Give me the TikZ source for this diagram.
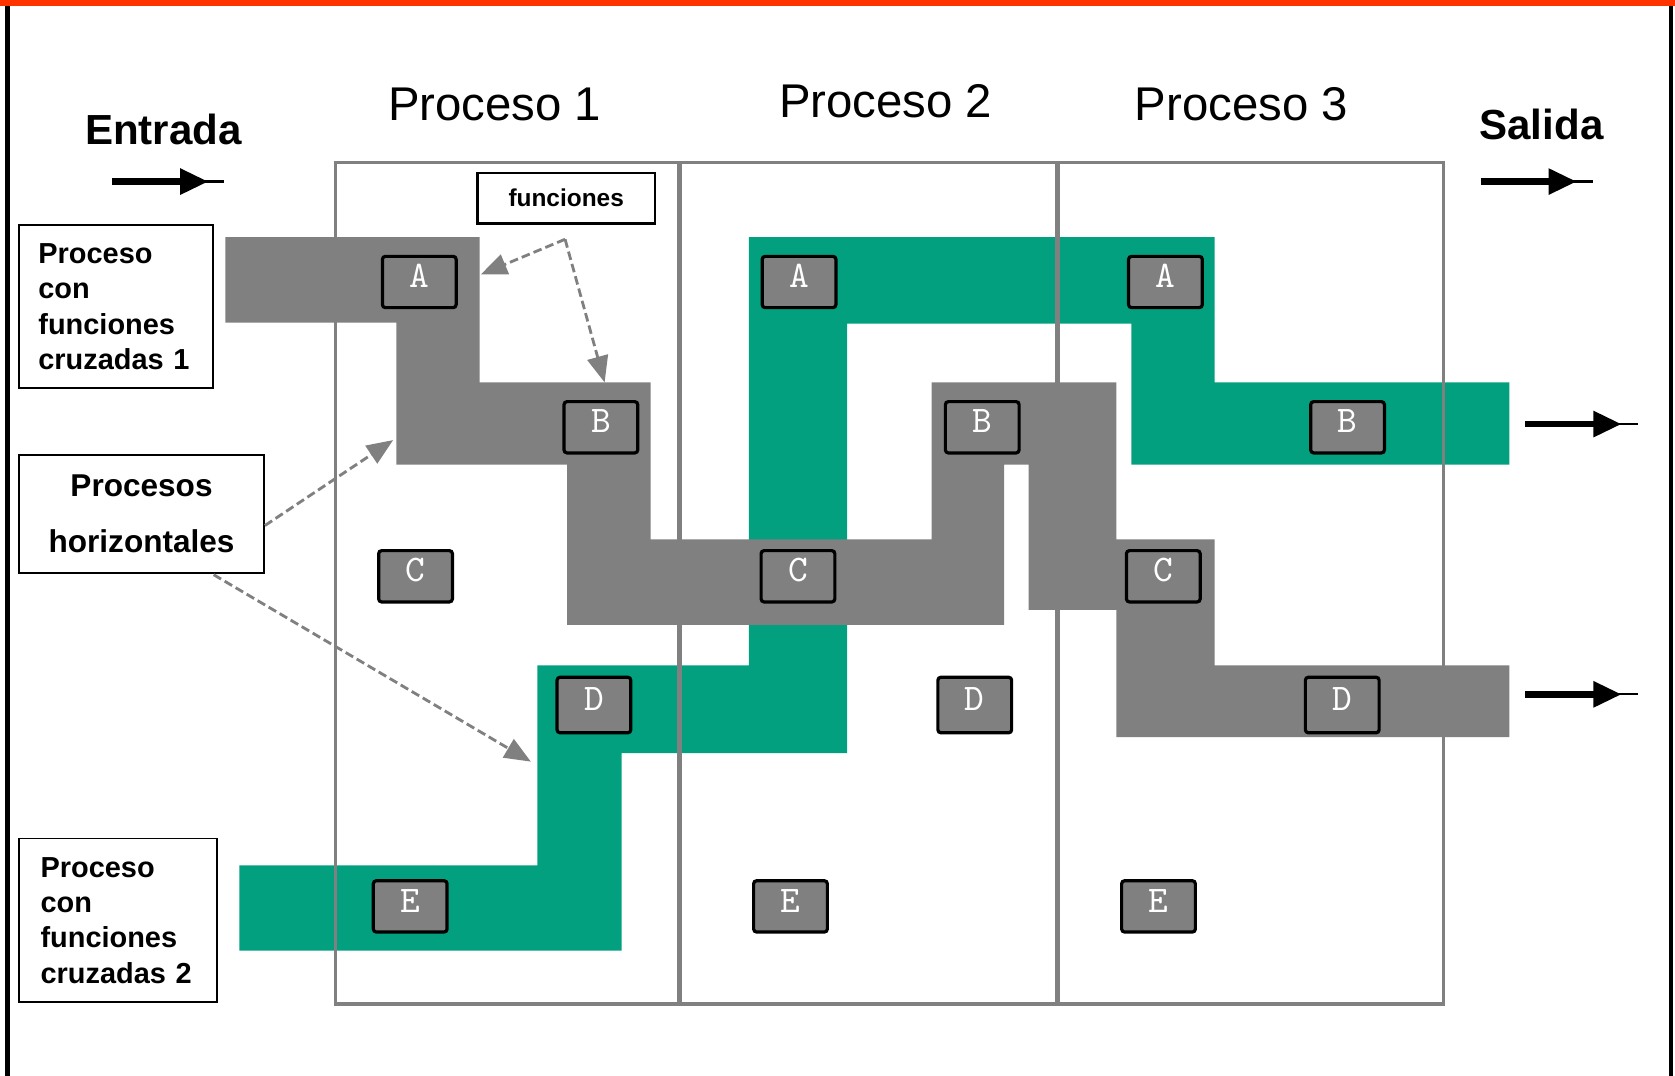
\documentclass[tikz,border=0pt]{standalone}
\usepackage{fontspec}
\setmainfont{Liberation Sans}
\usetikzlibrary{arrows.meta}
\definecolor{bandgray}{RGB}{128,128,128}
\definecolor{bandgreen}{RGB}{3,160,128}
\definecolor{topred}{RGB}{255,51,0}

\begin{document}
\begin{tikzpicture}[x=0.01cm, y=-0.01cm,
  letterbox/.style={draw=black, line width=0.85pt, fill=bandgray, rounded corners=0.8pt, minimum width=0.69cm, minimum height=0.48cm, inner sep=0pt, text=white, font=\fontsize{10}{10}\selectfont\ttfamily, text height=6.2pt, text depth=3.2pt},
  labelbox/.style={draw=black, line width=0.5pt, inner xsep=0.2cm, inner ysep=0pt, font=\fontsize{7.7}{9.4}\selectfont\bfseries, align=left},
  title/.style={font=\fontsize{12.6}{14}\selectfont, anchor=base},
  endtitle/.style={font=\fontsize{11.2}{13}\selectfont\bfseries, anchor=base},
  hint/.style={draw=bandgray, line width=0.75pt, dash pattern=on 2.3pt off 1.1pt, -{Triangle[length=7pt, width=5.6pt]}},
  flow/.style={line width=1.7pt, -{Triangle[length=7.5pt, width=6.6pt]}},
  flowtail/.style={line width=0.6pt},
  lane/.style={draw=bandgray, line width=0.9pt}]

  \useasboundingbox (0,0) rectangle (1568,1007);
  \fill[topred] (0,0) rectangle (1568,5.5);
  \fill[black] (5,5.5) rectangle (9,1007);
  \fill[black] (1562,5.5) rectangle (1566,1007);

  \node[title] (p1) at (463,113) {Proceso 1};
  \node[title] (p2) at (829,110) {Proceso 2};
  \node[title] (p3) at (1162,113) {Proceso 3};
  \node[endtitle] (ent) at (153,135) {Entrada};
  \node[endtitle] (sal) at (1443,131) {Salida};

  \fill[bandgreen] (224,890) -- (224,810) -- (503,810) -- (503,623) -- (701,623) -- (701,222) -- (1137,222) -- (1137,358) -- (1413,358) -- (1413,435) -- (1059,435) -- (1059,303) -- (793,303) -- (793,705) -- (582,705) -- (582,890) -- cycle;
  \fill[bandgray] (211,222) -- (449,222) -- (449,358) -- (609,358) -- (609,505) -- (872,505) -- (872,358) -- (1045,358) -- (1045,505) -- (1137,505) -- (1137,623) -- (1413,623) -- (1413,690) -- (1045,690) -- (1045,571) -- (963,571) -- (963,435) -- (940,435) -- (940,585) -- (531,585) -- (531,435) -- (371,435) -- (371,302) -- (211,302) -- cycle;

  \draw[lane] (314,152) rectangle (1351,940);
  \draw[lane, line width=1.4pt] (636,152) -- (636,940);
  \draw[lane, line width=1.4pt] (990,152) -- (990,940);

  \node[labelbox, text width=1.45cm, inner xsep=0.18cm, minimum height=1.52cm] (cruz1) at (108.5,287) {Proceso\\con\\funciones\\cruzadas 1};
  \node[labelbox, align=center, inner xsep=0pt, font=\fontsize{8.4}{15}\selectfont\bfseries, minimum width=2.29cm, minimum height=1.1cm] (horiz) at (132.5,481) {Procesos\\horizontales};
  \node[labelbox, text width=1.45cm, minimum height=1.53cm] (cruz2) at (110.5,861.5) {Proceso\\con\\funciones\\cruzadas 2};
  \node[labelbox, align=center, inner xsep=0pt, line width=0.7pt, font=\fontsize{6.5}{8}\selectfont\bfseries, minimum width=1.66cm, minimum height=0.47cm] (func) at (530,185.5) {funciones};

  \node[letterbox] (a1) at (392.5,264) {A};
  \node[letterbox] (b1) at (562.5,400) {B};
  \node[letterbox] (c1) at (389,539.5) {C};
  \node[letterbox, minimum height=0.52cm] (d1) at (556,660) {D};
  \node[letterbox] (e1) at (384,848.5) {E};

  \node[letterbox] (a2) at (748,264) {A};
  \node[letterbox] (b2) at (919.5,400) {B};
  \node[letterbox] (c2) at (747,539.5) {C};
  \node[letterbox, minimum height=0.52cm] (d2) at (912.5,660) {D};
  \node[letterbox] (e2) at (740,848.5) {E};

  \node[letterbox] (a3) at (1091,264) {A};
  \node[letterbox] (b3) at (1261.5,400) {B};
  \node[letterbox] (c3) at (1089,539.5) {C};
  \node[letterbox, minimum height=0.52cm] (d3) at (1256.5,660) {D};
  \node[letterbox] (e3) at (1084.5,848.5) {E};

  \coordinate (fsrc) at (529,224);
  \coordinate (fa) at (450,257);
  \coordinate (fb) at (566,358);
  \draw[hint] (fsrc) -- (fa);
  \draw[hint] (fsrc) -- (fb);
  \coordinate (hsrc1) at (248,492);
  \coordinate (hb) at (368,412);
  \coordinate (hsrc2) at (200,538);
  \coordinate (hd) at (497,713);
  \draw[hint] (hsrc1) -- (hb);
  \draw[hint] (hsrc2) -- (hd);

  \coordinate (in0) at (105,170);
  \coordinate (in1) at (195,170);
  \coordinate (in2) at (210,170);
  \draw[flowtail] (in0) -- (in2);
  \draw[flow] (in0) -- (in1);

  \coordinate (out0) at (1386,170);
  \coordinate (out1) at (1476,170);
  \coordinate (out2) at (1491,170);
  \draw[flowtail] (out0) -- (out2);
  \draw[flow] (out0) -- (out1);

  \coordinate (ob0) at (1428,397);
  \coordinate (ob1) at (1518,397);
  \coordinate (ob2) at (1533,397);
  \draw[flowtail] (ob0) -- (ob2);
  \draw[flow] (ob0) -- (ob1);

  \coordinate (od0) at (1428,650);
  \coordinate (od1) at (1518,650);
  \coordinate (od2) at (1533,650);
  \draw[flowtail] (od0) -- (od2);
  \draw[flow] (od0) -- (od1);

\end{tikzpicture}
\end{document}
